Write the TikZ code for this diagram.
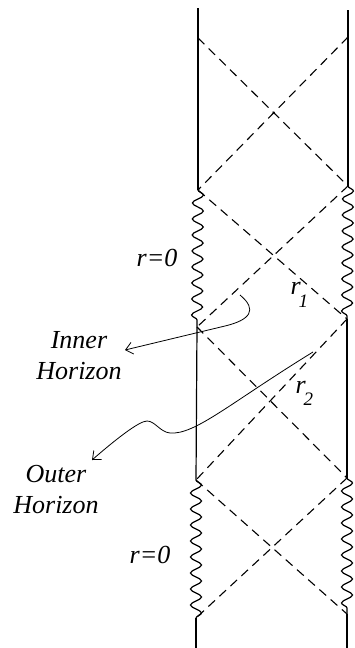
\documentclass[tikz,border=0pt]{standalone}
\usepackage{fontspec}
\setmainfont{Liberation Serif}
\usetikzlibrary{decorations.pathmorphing,arrows.meta}
\newcommand\lowidx[2]{\kern-2pt\raisebox{-#1}{\fontsize{19}{19}\selectfont #2}}

\begin{document}
\begin{tikzpicture}[x=1pt,y=-1pt,line width=1.2pt,
 lbl/.style={font=\fontsize{26}{31}\selectfont\itshape,inner sep=0pt,align=center},
 wavy/.style={decorate,decoration={snake,segment length=16pt,amplitude=5.5pt}},
 nullray/.style={line width=1.1pt,dash pattern=on 9pt off 6pt},
 pointer/.style={line width=0.8pt,-{Straight Barb[length=7pt,width=12pt]}}]
 \useasboundingbox (0,0) rectangle (354,648);

 % left and right edges
 \coordinate (L0) at (198,8);   \coordinate (R0) at (348,10);
 \coordinate (Lt) at (198,38);  \coordinate (Rt) at (348,37);
 \coordinate (L1) at (198,190); \coordinate (R1) at (348,186);
 \coordinate (L2) at (197,327); \coordinate (R2) at (347,319);
 \coordinate (L3) at (196,480); \coordinate (R3) at (347,478);
 \coordinate (L4) at (196,618); \coordinate (R4) at (347,614);
 \coordinate (L5) at (196,648); \coordinate (R5) at (347,648);

 \draw (L0) -- (L1); \draw (R0) -- (R1);
 \draw [wavy] (L1) -- (L2); \draw [wavy] (R1) -- (R2);
 \draw (L2) -- (L3); \draw (R2) -- (R3);
 \draw [wavy] (L3) -- (L4); \draw [wavy] (R3) -- (R4);
 \draw (L4) -- (L5); \draw (R4) -- (R5);

 % horizons
 \foreach \a/\b in {Lt/R1,Rt/L1,L1/R2,R1/L2,L2/R3,R2/L3,L3/R4,R3/L4}
  \draw [nullray] (\a) -- (\b);

 \node [lbl,anchor=base] (rtop) at (157,266) {r=0};
 \node [lbl,anchor=base] (rbot) at (150,563) {r=0};
 \node [lbl,anchor=base west] (rone) at (290,294) {r\lowidx{13pt}{1}};
 \node [lbl,anchor=base west] (rtwo) at (295,393) {r\lowidx{12pt}{2}};
 \node [lbl] (inner) at (79,356) {Inner\\Horizon};
 \node [lbl] (outer) at (56,490) {Outer\\Horizon};

 \coordinate (ia) at (240,295); \coordinate (ib) at (125,350);
 \coordinate (oa) at (313,352); \coordinate (ob) at (92,460);
 \draw [pointer] (ia) .. controls (258,310) and (250,320) .. (225,326) -- (ib);
 \draw [pointer] (oa) .. controls (230,403) and (195,435) .. (170,433)
  .. controls (160,432) and (155,421) .. (147,421)
  .. controls (139,421) and (115,440) .. (ob);
\end{tikzpicture}
\end{document}
